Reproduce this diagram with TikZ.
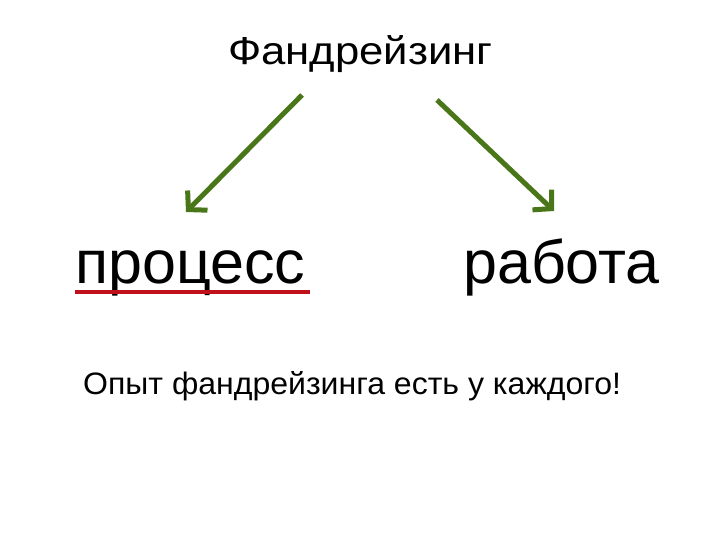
\documentclass[tikz,border=0pt]{standalone}
\usepackage{fontspec}
\usepackage{graphicx}
\setmainfont{Liberation Sans}
\usetikzlibrary{arrows.meta}
\definecolor{arrgreen}{RGB}{74,118,26}
\definecolor{ulred}{RGB}{192,16,26}
\begin{document}
\begin{tikzpicture}[x=1pt,y=-1pt,
  txt/.style={inner sep=0pt, anchor=base west, text=black},
  conn/.style={draw=arrgreen, line width=5pt, -{Straight Barb[length=13pt,width=28pt,line width=5pt]}},
  uline/.style={draw=ulred, line width=4pt}]
\useasboundingbox (0,0) rectangle (720,540);
\fill[white] (0,0) rectangle (720,540);
\node[txt, font=\fontsize{39}{46}\selectfont] (title) at (228,65) {\scalebox{1.12}[1]{Фандрейзинг}};
\node[txt, font=\fontsize{61}{70}\selectfont] (proc) at (75,283) {процесс};
\node[txt, font=\fontsize{61}{70}\selectfont] (rab) at (463,283) {работа};
\node[txt, font=\fontsize{31}{38}\selectfont] (opyt) at (83,394) {\scalebox{1.033}[1]{Опыт фандрейзинга есть у каждого!}};
\coordinate (a1s) at (302,95);
\coordinate (a1e) at (186,212);
\coordinate (a2s) at (437,100);
\coordinate (a2e) at (554,211);
\coordinate (u1) at (75,292);
\coordinate (u2) at (310,292);
\draw[conn] (a1s) -- (a1e);
\draw[conn] (a2s) -- (a2e);
\draw[uline] (u1) -- (u2);
\end{tikzpicture}
\end{document}
